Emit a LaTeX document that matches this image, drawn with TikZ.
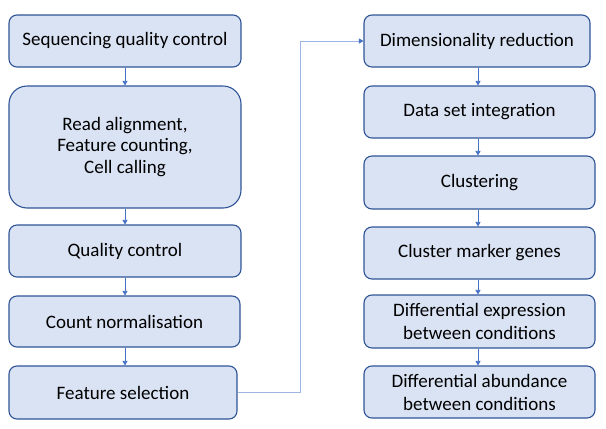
\documentclass[tikz,border=0pt]{standalone}
\usepackage{fontspec}
\setmainfont{Carlito}
\usetikzlibrary{arrows.meta}
\definecolor{boxfill}{HTML}{DAE3F3}
\definecolor{boxdraw}{HTML}{2F5597}
\definecolor{arr}{HTML}{4472C4}
\definecolor{arrlight}{HTML}{9DB6E4}
\tikzset{
  stepbox/.style={draw=boxdraw, fill=boxfill, line width=1.1pt, rounded corners=8pt,
    align=center, inner sep=0pt, font=\fontsize{19}{23}\selectfont},
  flow/.style={draw=arr, line width=0.7pt, -{Triangle[width=5pt,length=4.5pt]}},
  link/.style={draw=arrlight, line width=0.9pt, -{Triangle[width=5pt,length=4.5pt,color=arr]}}
}
\begin{document}
\begin{tikzpicture}[x=1pt,y=-1pt]
\useasboundingbox (0,0) rectangle (606,429);
% left column
\node[stepbox, minimum width=232pt, minimum height=52pt] (L1) at (125,41) {Sequencing quality control};
\node[stepbox, rounded corners=18pt, minimum width=232pt, minimum height=122pt, font=\fontsize{19}{21.5}\selectfont] (L2) at (125,147) {Read alignment,\\Feature counting,\\Cell calling};
\node[stepbox, minimum width=232pt, minimum height=52pt] (L3) at (125,251) {Quality control};
\node[stepbox, minimum width=231pt, minimum height=51pt] (L4) at (124.5,321.5) {Count normalisation};
\node[stepbox, minimum width=228pt, minimum height=53pt] (L5) at (123,392.5) {Feature selection};
% right column
\node[stepbox, minimum width=226pt, minimum height=52pt] (R1) at (477,41) {Dimensionality reduction};
\node[stepbox, minimum width=231pt, minimum height=52pt] (R2) at (479.5,112) {Data set integration};
\node[stepbox, minimum width=231pt, minimum height=53pt] (R3) at (479.5,182.5) {Clustering};
\node[stepbox, minimum width=231pt, minimum height=52pt] (R4) at (479.5,253) {Cluster marker genes};
\node[stepbox, minimum width=231pt, minimum height=53pt] (R5) at (479.5,321.5) {Differential expression\\between conditions};
\node[stepbox, minimum width=231pt, minimum height=52pt] (R6) at (479.5,392) {Differential abundance\\between conditions};
% vertical arrows
\draw[flow] (L1.south) -- (L2.north);
\draw[flow] (L2.south) -- (L3.north);
\draw[flow] (L3.south) -- (L4.north -| L3.south);
\draw[flow] (L4.south -| L3.south) -- (L5.north -| L3.south);
\draw[flow] (R1.south -| 478,0) -- (R2.north -| 478,0);
\draw[flow] (R2.south -| 478,0) -- (R3.north -| 478,0);
\draw[flow] (R3.south -| 478,0) -- (R4.north -| 478,0);
\draw[flow] (R4.south -| 478,0) -- (R5.north -| 478,0);
\draw[flow] (R5.south -| 478,0) -- (R6.north -| 478,0);
% connector between columns
\coordinate (j1) at (300,392.5);
\draw[link] (L5.east) -- (j1) |- (R1.west);
\end{tikzpicture}
\end{document}
